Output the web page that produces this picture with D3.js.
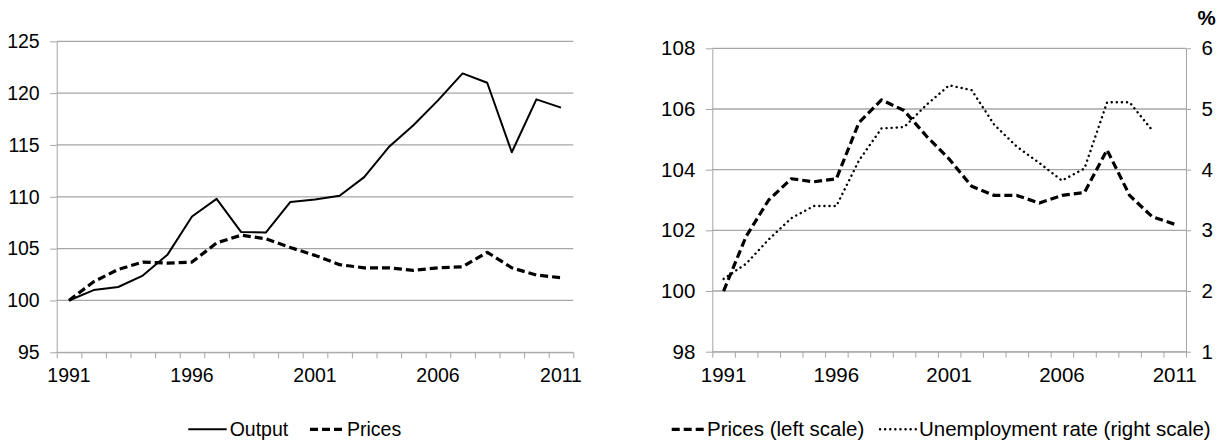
<!DOCTYPE html>
<html>
<head>
<meta charset="utf-8">
<script src="https://cdn.jsdelivr.net/npm/d3@7"></script>
<style>
  body { margin: 0; background: #fff; }
  svg { display: block; }
  text { font-family: "Liberation Sans", Arial, sans-serif; fill: #000; }
</style>
</head>
<body>
<script>
// DATA
var years = ["1991", "1992", "1993", "1994", "1995", "1996", "1997", "1998", "1999", "2000",
             "2001", "2002", "2003", "2004", "2005", "2006", "2007", "2008", "2009", "2010", "2011"];
var yearLabels = ["1991", "1996", "2001", "2006", "2011"];

var output = [100, 101.0, 101.3, 102.4, 104.4, 108.1, 109.8, 106.6, 106.55, 109.5,
              109.75, 110.1, 111.9, 114.8, 116.9, 119.3, 121.9, 121.0, 114.3, 119.4, 118.6];
var prices = [100, 101.8, 103.0, 103.7, 103.6, 103.7, 105.55, 106.3, 105.95, 105.1,
              104.35, 103.45, 103.15, 103.15, 102.9, 103.15, 103.25, 104.65, 103.15, 102.45, 102.2];
var unemployment = [2.2, 2.45, 2.85, 3.2, 3.4, 3.4, 4.15, 4.68, 4.7, 5.07,
                    5.39, 5.31, 4.74, 4.38, 4.11, 3.82, 4.02, 5.11, 5.11, 4.65, null];

var leftTicks = [95, 100, 105, 110, 115, 120, 125];
var pricesTicks = [98, 100, 102, 104, 106, 108];
var unempTicks = [1, 2, 3, 4, 5, 6];

// SETUP
var width = 1223, height = 443,
    gridColor = "#a6a6a6";

var svg = d3.select("body").append("svg")
    .attr("width", width)
    .attr("height", height);

var styles = {
  solid:  {width: 2,   dash: null},
  dashed: {width: 3.2, dash: "8,4"},
  dotted: {width: 2.4, dash: "0.1,5"}
};

function xAxes(g, x, xi, bottom, fs) {
  // category boundary ticks
  g.append("g")
      .attr("transform", "translate(0," + bottom + ")")
      .call(d3.axisBottom(xi).tickValues(d3.range(years.length + 1)).tickFormat("").tickSizeInner(6).tickSizeOuter(0))
      .call(function(a) { a.selectAll("line, path").attr("stroke", gridColor); });
  // year labels
  g.append("g")
      .attr("transform", "translate(0," + bottom + ")")
      .call(d3.axisBottom(x).tickValues(yearLabels).tickSize(0).tickPadding(16))
      .call(function(a) {
        a.select(".domain").remove();
        a.selectAll("text").attr("font-size", fs).attr("font-family", null);
      });
}

function yAxis(g, y, ticks, xpos, side, size, fs) {
  var axis = side === "left" ? d3.axisLeft(y) : d3.axisRight(y);
  g.append("g")
      .attr("transform", "translate(" + xpos + ",0)")
      .call(axis.tickValues(ticks).tickFormat(d3.format("d"))
               .tickSizeInner(size).tickSizeOuter(0).tickPadding(10.5))
      .call(function(a) {
        a.selectAll("line, path").attr("stroke", gridColor);
        a.selectAll("text").attr("font-size", fs).attr("font-family", null);
      });
}

function grid(g, y, ticks, x0, x1) {
  g.append("g").selectAll("line")
    .data(ticks)
    .join("line")
      .attr("x1", x0).attr("x2", x1)
      .attr("y1", function(d) { return y(d); })
      .attr("y2", function(d) { return y(d); })
      .attr("stroke", gridColor)
      .attr("stroke-width", 1.3);
}

function series(g, x, y, values, st) {
  var line = d3.line()
      .defined(function(d) { return d != null; })
      .x(function(d, i) { return x(years[i]) + x.bandwidth() / 2; })
      .y(function(d) { return y(d); });
  g.append("path")
      .datum(values)
      .attr("fill", "none")
      .attr("stroke", "#000")
      .attr("stroke-width", st.width)
      .attr("stroke-dasharray", st.dash)
      .attr("stroke-linecap", st === styles.dotted ? "round" : "butt")
      .attr("stroke-linejoin", "round")
      .attr("d", line);
}

function legendItem(g, x0, x1, ly, st, label, fs) {
  g.append("line")
      .attr("x1", x0).attr("x2", x1)
      .attr("y1", ly).attr("y2", ly)
      .attr("stroke", "#000")
      .attr("stroke-width", st.width)
      .attr("stroke-dasharray", st.dash)
      .attr("stroke-linecap", st === styles.dotted ? "round" : "butt");
  g.append("text")
      .attr("x", x1 + 3)
      .attr("y", ly + 6.8)
      .attr("font-size", fs)
      .text(label);
}

// LEFT PANEL: output and prices
(function() {
  var x0 = 56.7, x1 = 573.3, top = 41.3, bottom = 352.3, fs = 19.5;
  var g = svg.append("g");
  var x = d3.scaleBand().domain(years).range([x0, x1]);
  var xi = d3.scaleLinear().domain([0, years.length]).range([x0, x1]);
  var y = d3.scaleLinear().domain([95, 125]).range([bottom, top]);

  grid(g, y, leftTicks.slice(1), x0, x1);
  yAxis(g, y, leftTicks, x0, "left", 6.5, fs);
  g.append("line")
      .attr("x1", x0).attr("x2", x1)
      .attr("y1", bottom).attr("y2", bottom)
      .attr("stroke", gridColor);
  xAxes(g, x, xi, bottom, fs);

  series(g, x, y, output, styles.solid);
  series(g, x, y, prices, styles.dashed);

  legendItem(g, 188.3, 226.7, 429.3, styles.solid, "Output", fs);
  legendItem(g, 310, 344, 429.3, styles.dashed, "Prices", fs);
})();

// RIGHT PANEL: prices and unemployment rate
(function() {
  var x0 = 712.3, x1 = 1186, top = 48.3, bottom = 351.7, fs = 20.5;
  var g = svg.append("g");
  var x = d3.scaleBand().domain(years).range([x0, x1]);
  var xi = d3.scaleLinear().domain([0, years.length]).range([x0, x1]);
  var yP = d3.scaleLinear().domain([98, 108]).range([bottom, top]);
  var yU = d3.scaleLinear().domain([1, 6]).range([bottom, top]);

  grid(g, yP, pricesTicks.slice(1), x0, x1);
  yAxis(g, yP, pricesTicks, x0, "left", 6.5, fs);
  yAxis(g, yU, unempTicks, x1, "right", 5, fs);
  g.append("line")
      .attr("x1", x0).attr("x2", x1)
      .attr("y1", bottom).attr("y2", bottom)
      .attr("stroke", gridColor);
  xAxes(g, x, xi, bottom, fs);

  series(g, x, yU, unemployment, styles.dotted);
  series(g, x, yP, prices, styles.dashed);

  g.append("text")
      .attr("x", 1206.5)
      .attr("y", 25)
      .attr("text-anchor", "middle")
      .attr("font-size", fs)
      .attr("font-weight", "bold")
      .text("%");

  legendItem(g, 671.7, 704, 429.3, styles.dashed, "Prices (left scale)", fs);
  legendItem(g, 880, 916, 429.3, styles.dotted, "Unemployment rate (right scale)", fs);
})();
</script>
</body>
</html>
